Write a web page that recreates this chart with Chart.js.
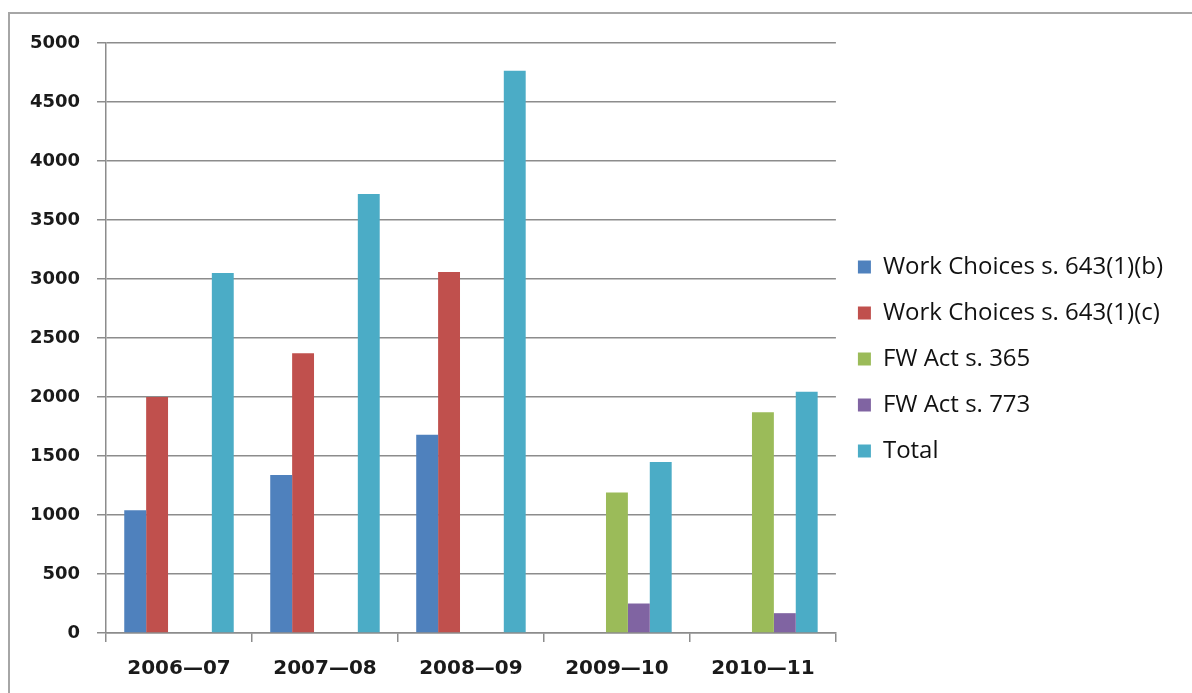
<!DOCTYPE html>
<html>
<head>
<meta charset="utf-8">
<script src="https://cdn.jsdelivr.net/npm/chart.js@4/dist/chart.umd.min.js"></script>
<style>
  html,body{margin:0;padding:0;background:#fff;}
  #wrap{position:relative;width:1192px;height:693px;overflow:hidden;}
  #c{position:absolute;left:0;top:0;}
  .bt{position:absolute;left:9px;top:12px;width:1183px;height:2px;background:#a6a6a6;}
  .bl{position:absolute;left:8px;top:12px;width:2px;height:681px;background:#a6a6a6;}
</style>
</head>
<body>
<div id="wrap">
  <canvas id="c" width="1192" height="693"></canvas>
  <div class="bt"></div><div class="bl"></div>
</div>
<script>
const categories = ["2006\u201407", "2007\u201408", "2008\u201409", "2009\u201410", "2010\u201411"];
const seriesNames = ["Work Choices s. 643(1)(b)", "Work Choices s. 643(1)(c)", "FW Act s. 365", "FW Act s. 773", "Total"];
const wc643b = [1040, 1340, 1680, null, null];
const wc643c = [2000, 2370, 3060, null, null];
const fw365 = [null, null, null, 1190, 1870];
const fw773 = [null, null, null, 250, 168];
const total = [3050, 3720, 4765, 1450, 2045];
const yTicks = [0, 500, 1000, 1500, 2000, 2500, 3000, 3500, 4000, 4500, 5000];
const colors = ["#4F81BD", "#C0504D", "#9BBB59", "#8064A2", "#4BACC6"];

const seriesData = [wc643b, wc643c, fw365, fw773, total];
const gridColor = "#8c8c8c";
Chart.defaults.font.family = "DejaVu Sans";

function draw() {
  new Chart(document.getElementById("c"), {
    type: "bar",
    data: {
      labels: categories,
      datasets: seriesData.map((d, i) => ({
        label: seriesNames[i],
        data: d,
        backgroundColor: colors[i],
        borderWidth: 0,
        categoryPercentage: 0.75,
        barPercentage: 1.0
      }))
    },
    options: {
      responsive: false,
      animation: false,
      layout: { padding: { left: 0, top: 43, bottom: 18, right: 19 } },
      plugins: {
        tooltip: { enabled: false },
        legend: {
          position: "right",
          maxWidth: 420,
          labels: {
            font: { family: "Open Sans", size: 24 },
            color: "#111",
            boxWidth: 13,
            boxHeight: 13,
            padding: 22
          }
        }
      },
      scales: {
        x: {
          afterFit: (axis) => { axis.height = 42; },
          grid: { display: true, drawOnChartArea: false, offset: true, color: gridColor, lineWidth: 1.5, tickLength: 9 },
          border: { color: gridColor, width: 1.5 },
          ticks: { font: { family: "DejaVu Sans", size: 20, weight: "bold" }, color: "#1a1a1a", padding: 15 }
        },
        y: {
          min: 0, max: 5000,
          afterBuildTicks: (axis) => { axis.ticks = yTicks.map(v => ({ value: v })); },
          afterFit: (axis) => { axis.width = 106; },
          grid: { color: gridColor, lineWidth: 1.5, tickLength: 9 },
          border: { color: gridColor, width: 1.5 },
          ticks: { font: { family: "DejaVu Sans", size: 18, weight: "bold" }, color: "#1a1a1a", padding: 17,
                   callback: (v) => String(v) }
        }
      }
    }
  });
}

Promise.all([
  document.fonts.load('24px "Open Sans"'),
  document.fonts.load('bold 20px "DejaVu Sans"'),
  document.fonts.load('bold 18px "DejaVu Sans"')
]).then(draw, draw);
</script>
</body>
</html>
